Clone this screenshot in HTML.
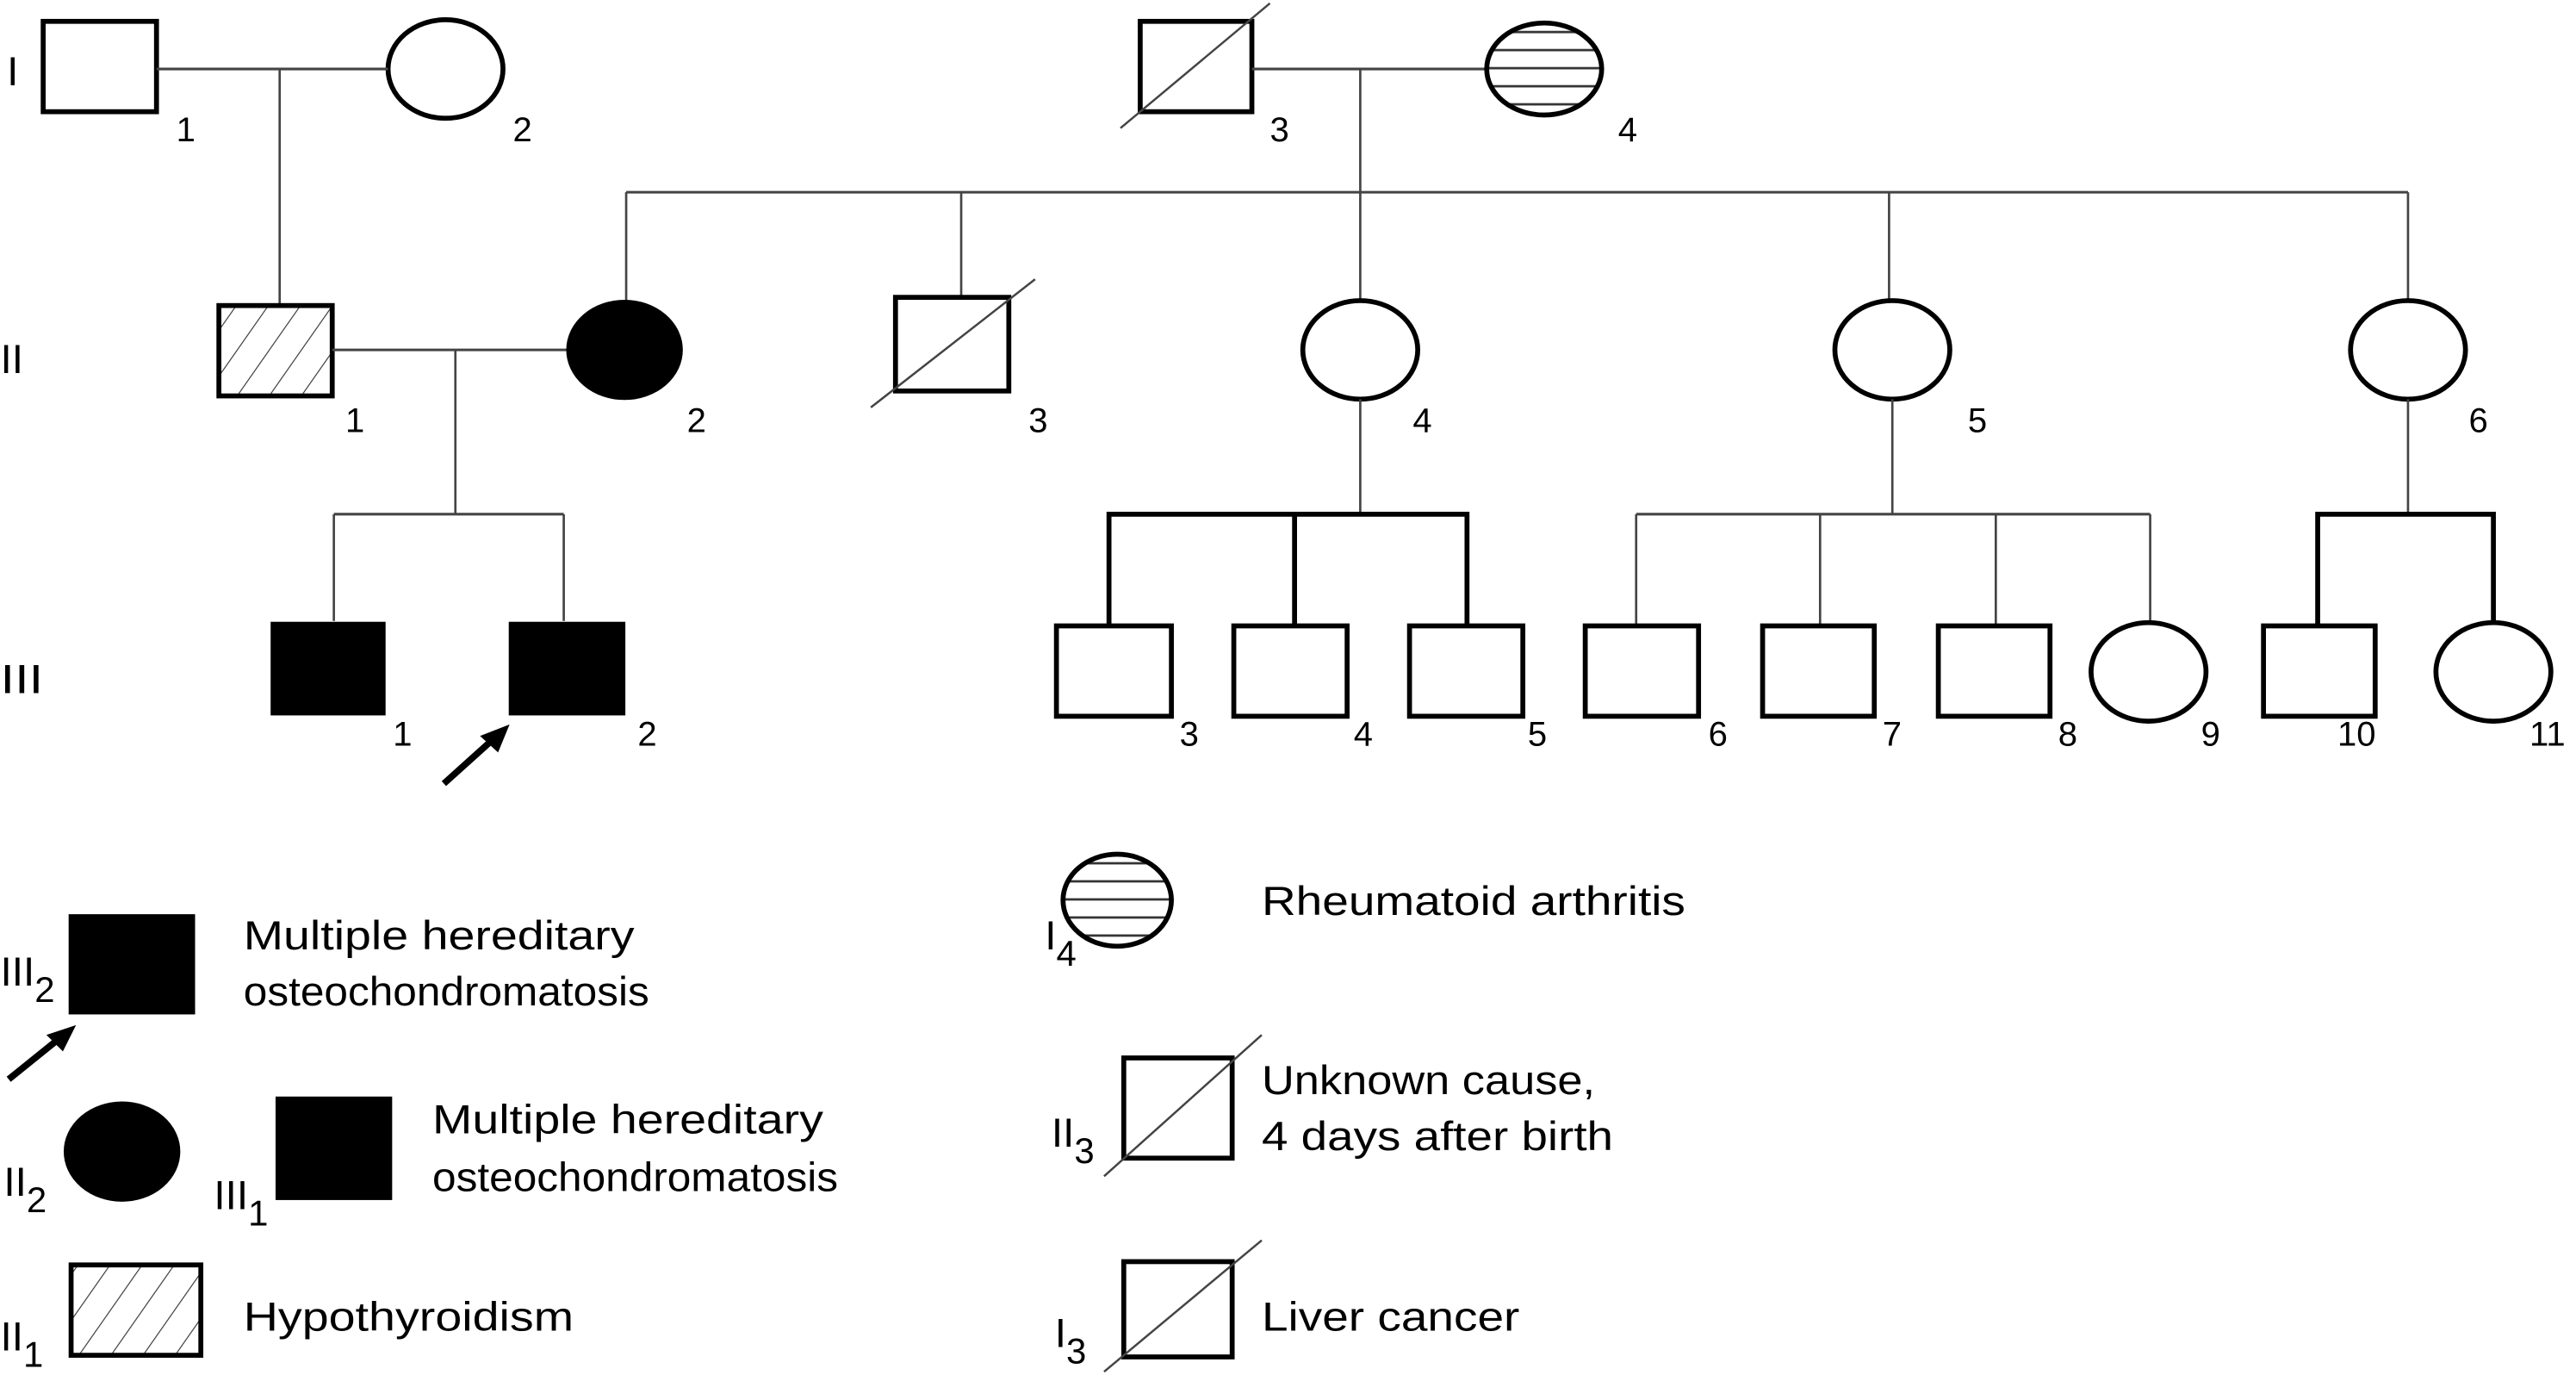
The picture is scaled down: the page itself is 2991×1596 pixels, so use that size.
<!DOCTYPE html>
<html><head><meta charset="utf-8"><style>
html,body{margin:0;padding:0;background:#fff;}
svg{display:block;}
text{font-family:"Liberation Sans",Arial,sans-serif;fill:#000;}
</style></head><body>
<svg width="2991" height="1596" viewBox="0 0 1568 837" xmlns="http://www.w3.org/2000/svg">
<defs>
<pattern id="hatch" patternUnits="userSpaceOnUse" width="16" height="16" patternTransform="rotate(35)">
<line x1="0" y1="0" x2="0" y2="16" stroke="#333" stroke-width="1.2"/>
</pattern>
<pattern id="hstripe" patternUnits="userSpaceOnUse" width="10" height="11" y="3">
<line x1="0" y1="5.5" x2="10" y2="5.5" stroke="#333" stroke-width="1.4"/>
</pattern>
</defs>
<g fill="none" stroke="#000">
<rect x="26" y="13" width="69" height="55" stroke-width="3" fill="#fff"/>
<ellipse cx="271" cy="42" rx="35" ry="30" stroke-width="3" fill="#fff"/>
<line x1="95" y1="42" x2="236" y2="42" stroke-width="1.6" stroke="#444"/>
<line x1="170" y1="42" x2="170" y2="185" stroke-width="1.4" stroke="#444"/>
<rect x="694" y="13" width="68" height="55" stroke-width="3" fill="#fff"/>
<line x1="682" y1="78" x2="773" y2="2" stroke-width="1.3" stroke="#444"/>
<line x1="762" y1="42" x2="905" y2="42" stroke-width="1.6" stroke="#444"/>
<ellipse cx="940" cy="42" rx="35" ry="28" fill="url(#hstripe)" stroke-width="3"/>
<line x1="828" y1="42" x2="828" y2="117" stroke-width="1.4" stroke="#444"/>
<line x1="381" y1="117" x2="1466" y2="117" stroke-width="1.6" stroke="#444"/>
<line x1="381" y1="117" x2="381" y2="185" stroke-width="1.4" stroke="#444"/>
<line x1="585" y1="117" x2="585" y2="180" stroke-width="1.4" stroke="#444"/>
<line x1="828" y1="117" x2="828" y2="184" stroke-width="1.4" stroke="#444"/>
<line x1="1150" y1="117" x2="1150" y2="184" stroke-width="1.4" stroke="#444"/>
<line x1="1466" y1="117" x2="1466" y2="184" stroke-width="1.4" stroke="#444"/>
<rect x="133" y="186" width="69" height="55" stroke-width="3" fill="url(#hatch)"/>
<line x1="202" y1="213" x2="345" y2="213" stroke-width="1.6" stroke="#444"/>
<ellipse cx="380" cy="213" rx="35" ry="30" fill="#000" stroke-width="1"/>
<line x1="277" y1="213" x2="277" y2="313" stroke-width="1.4" stroke="#444"/>
<line x1="203" y1="313" x2="343" y2="313" stroke-width="1.6" stroke="#444"/>
<line x1="203" y1="313" x2="203" y2="378" stroke-width="1.4" stroke="#444"/>
<line x1="343" y1="313" x2="343" y2="378" stroke-width="1.4" stroke="#444"/>
<rect x="545" y="181" width="69" height="57" stroke-width="3" fill="#fff"/>
<line x1="530" y1="248" x2="630" y2="170" stroke-width="1.3" stroke="#444"/>
<ellipse cx="828" cy="213" rx="35" ry="30" stroke-width="3" fill="#fff"/>
<ellipse cx="1152" cy="213" rx="35" ry="30" stroke-width="3" fill="#fff"/>
<ellipse cx="1466" cy="213" rx="35" ry="30" stroke-width="3" fill="#fff"/>
<line x1="828" y1="243" x2="828" y2="313" stroke-width="1.4" stroke="#444"/>
<line x1="1152" y1="243" x2="1152" y2="313" stroke-width="1.4" stroke="#444"/>
<line x1="1466" y1="243" x2="1466" y2="313" stroke-width="1.4" stroke="#444"/>
<polyline points="675,380 675,313 893,313 893,380" stroke-width="3"/>
<line x1="788" y1="313" x2="788" y2="380" stroke-width="3"/>
<line x1="996" y1="313" x2="1309" y2="313" stroke-width="1.6" stroke="#444"/>
<line x1="996" y1="313" x2="996" y2="380" stroke-width="1.4" stroke="#444"/>
<line x1="1108" y1="313" x2="1108" y2="380" stroke-width="1.4" stroke="#444"/>
<line x1="1215" y1="313" x2="1215" y2="380" stroke-width="1.4" stroke="#444"/>
<line x1="1309" y1="313" x2="1309" y2="380" stroke-width="1.4" stroke="#444"/>
<polyline points="1411,380 1411,313 1518,313 1518,380" stroke-width="3"/>
<rect x="165" y="379" width="69" height="56" fill="#000" stroke-width="1"/>
<rect x="310" y="379" width="70" height="56" fill="#000" stroke-width="1"/>
<line x1="270" y1="477" x2="300" y2="450" stroke-width="4"/>
<polygon points="310,441 292,448 303,458" fill="#000" stroke="none"/>
<rect x="643" y="381" width="70" height="55" stroke-width="3" fill="#fff"/>
<rect x="751" y="381" width="69" height="55" stroke-width="3" fill="#fff"/>
<rect x="858" y="381" width="69" height="55" stroke-width="3" fill="#fff"/>
<rect x="965" y="381" width="69" height="55" stroke-width="3" fill="#fff"/>
<rect x="1073" y="381" width="68" height="55" stroke-width="3" fill="#fff"/>
<rect x="1180" y="381" width="68" height="55" stroke-width="3" fill="#fff"/>
<ellipse cx="1308" cy="409" rx="35" ry="30" stroke-width="3" fill="#fff"/>
<rect x="1378" y="381" width="68" height="55" stroke-width="3" fill="#fff"/>
<ellipse cx="1518" cy="409" rx="35" ry="30" stroke-width="3" fill="#fff"/>
<rect x="42" y="557" width="76" height="60" fill="#000" stroke-width="1"/>
<line x1="5" y1="657" x2="36" y2="632" stroke-width="4"/>
<polygon points="46,624 28,630 38,640" fill="#000" stroke="none"/>
<ellipse cx="74" cy="701" rx="35" ry="30" fill="#000" stroke-width="1"/>
<rect x="168" y="668" width="70" height="62" fill="#000" stroke-width="1"/>
<rect x="43" y="770" width="79" height="55" stroke-width="3" fill="url(#hatch)"/>
<ellipse cx="680" cy="548" rx="33" ry="28" fill="url(#hstripe)" stroke-width="3"/>
<rect x="684" y="644" width="66" height="61" stroke-width="3" fill="#fff"/>
<line x1="672" y1="716" x2="768" y2="630" stroke-width="1.3" stroke="#444"/>
<rect x="684" y="768" width="66" height="58" stroke-width="3" fill="#fff"/>
<line x1="672" y1="835" x2="768" y2="755" stroke-width="1.3" stroke="#444"/>
</g>
<g font-size="21">
<text x="4" y="52" font-size="25">I</text>
<text x="0" y="227" font-size="25">II</text>
<text x="0" y="422" font-size="25" textLength="26" lengthAdjust="spacingAndGlyphs">III</text>
<text x="107" y="86">1</text><text x="312" y="86">2</text>
<text x="773" y="86">3</text><text x="985" y="86">4</text>
<text x="210" y="263">1</text><text x="418" y="263">2</text>
<text x="626" y="263">3</text><text x="860" y="263">4</text>
<text x="1198" y="263">5</text><text x="1503" y="263">6</text>
<text x="239" y="454">1</text><text x="388" y="454">2</text>
<text x="718" y="454">3</text><text x="824" y="454">4</text>
<text x="930" y="454">5</text><text x="1040" y="454">6</text>
<text x="1146" y="454">7</text><text x="1253" y="454">8</text>
<text x="1340" y="454">9</text><text x="1423" y="454">10</text>
<text x="1540" y="454">11</text>
</g>
<g font-size="25">
<text x="0" y="600">III<tspan font-size="22" dy="10">2</tspan></text>
<text x="148" y="578" textLength="238" lengthAdjust="spacingAndGlyphs">Multiple hereditary</text>
<text x="148" y="612" textLength="247" lengthAdjust="spacingAndGlyphs">osteochondromatosis</text>
<text x="2" y="728">II<tspan font-size="22" dy="10">2</tspan></text>
<text x="130" y="736">III<tspan font-size="22" dy="10">1</tspan></text>
<text x="263" y="690" textLength="238" lengthAdjust="spacingAndGlyphs">Multiple hereditary</text>
<text x="263" y="725" textLength="247" lengthAdjust="spacingAndGlyphs">osteochondromatosis</text>
<text x="0" y="822">II<tspan font-size="22" dy="10">1</tspan></text>
<text x="148" y="810" textLength="201" lengthAdjust="spacingAndGlyphs">Hypothyroidism</text>
<text x="636" y="578">I<tspan font-size="22" dy="10">4</tspan></text>
<text x="768" y="557" textLength="258" lengthAdjust="spacingAndGlyphs">Rheumatoid arthritis</text>
<text x="640" y="698">II<tspan font-size="22" dy="10">3</tspan></text>
<text x="768" y="666" textLength="203" lengthAdjust="spacingAndGlyphs">Unknown cause,</text>
<text x="768" y="700" textLength="214" lengthAdjust="spacingAndGlyphs">4 days after birth</text>
<text x="642" y="820">I<tspan font-size="22" dy="10">3</tspan></text>
<text x="768" y="810" textLength="157" lengthAdjust="spacingAndGlyphs">Liver cancer</text>
</g>
</svg>
</body></html>
